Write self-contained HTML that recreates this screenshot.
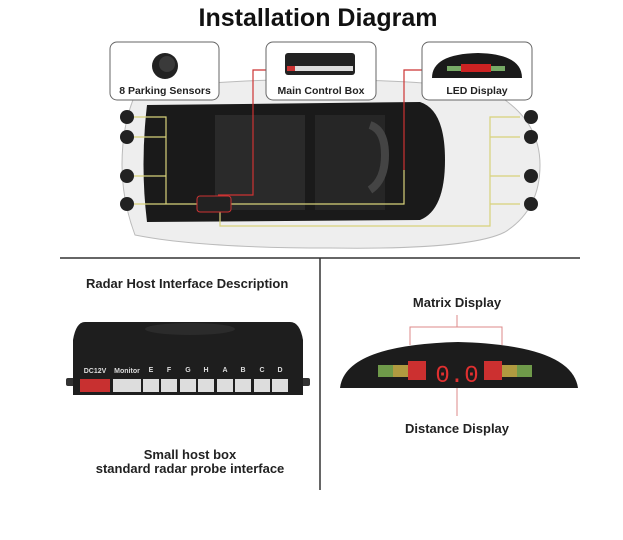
<!DOCTYPE html>
<html><head><style>
body{margin:0;background:#fff;width:623px;height:535px;overflow:hidden;font-family:"Liberation Sans",sans-serif}
</style></head><body>
<svg width="623" height="535" viewBox="0 0 623 535" xmlns="http://www.w3.org/2000/svg" font-family="Liberation Sans, sans-serif">
<text x="318" y="26" text-anchor="middle" font-size="25" font-weight="bold" fill="#111">Installation Diagram</text>
<path d="M135 95 Q200 78 330 80 Q470 80 505 100 Q540 125 540 165 Q540 210 505 232 Q470 250 330 248 Q200 248 135 235 Q122 200 122 165 Q122 125 135 95Z" fill="#eeeeee" stroke="#bbb"/>
<path d="M147 105 L420 102 Q445 110 445 160 Q445 210 420 220 L147 222 Q140 165 147 105Z" fill="#1a1a1a"/>
<rect x="215" y="115" width="90" height="95" fill="#2a2a2a"/>
<rect x="315" y="115" width="70" height="95" fill="#262626"/>
<path d="M370 125 q15 5 15 30 q0 25 -15 35" stroke="#444" stroke-width="8" fill="none"/>
<g stroke="#d8d27a" stroke-width="1.2" fill="none">
<path d="M133 117 H166 V204 H133 M133 137 H166 M133 176 H166 M166 204 H404 V170"/>
<path d="M520 117 H490 V226 H220 V210 M490 137 H520 M490 176 H520 M490 204 H520"/>
</g>
<g stroke="#c33" stroke-width="1.2" fill="none">
<path d="M218 195 H253 V70 H266"/><path d="M404 170 V70 H422"/>
</g>
<rect x="197" y="196" width="34" height="16" rx="3" fill="#222" stroke="#c33"/>
<g fill="#222">
<circle cx="127" cy="117" r="7"/><circle cx="127" cy="137" r="7"/><circle cx="127" cy="176" r="7"/><circle cx="127" cy="204" r="7"/>
<circle cx="531" cy="117" r="7"/><circle cx="531" cy="137" r="7"/><circle cx="531" cy="176" r="7"/><circle cx="531" cy="204" r="7"/>
</g>
<g fill="#fff" stroke="#666" stroke-width="1">
<rect x="110" y="42" width="109" height="58" rx="7"/>
<rect x="266" y="42" width="110" height="58" rx="7"/>
<rect x="422" y="42" width="110" height="58" rx="7"/>
</g>
<circle cx="165" cy="66" r="13" fill="#222"/><circle cx="167" cy="64" r="8" fill="#3a3a3a"/>
<rect x="285" y="53" width="70" height="22" rx="3" fill="#222"/><rect x="287" y="66" width="66" height="5" fill="#ddd"/><rect x="287" y="66" width="8" height="5" fill="#c33"/>
<path d="M432 78 Q432 54 478 53 Q522 54 522 78Z" fill="#1a1a1a"/>
<rect x="447" y="66" width="14" height="5" fill="#7a6"/><rect x="461" y="64" width="30" height="8" fill="#c22"/><rect x="491" y="66" width="14" height="5" fill="#7a6"/>
<g font-size="10.5" font-weight="bold" fill="#222" text-anchor="middle">
<text x="165" y="94">8 Parking Sensors</text><text x="321" y="94">Main Control Box</text><text x="477" y="94">LED Display</text>
</g>
<line x1="60" y1="258" x2="580" y2="258" stroke="#333" stroke-width="1.5"/>
<line x1="320" y1="258" x2="320" y2="490" stroke="#333" stroke-width="1.5"/>
<text x="86" y="288" font-size="13" font-weight="bold" fill="#222">Radar Host Interface Description</text>
<rect x="66" y="378" width="10" height="8" rx="2" fill="#333"/><rect x="300" y="378" width="10" height="8" rx="2" fill="#333"/>
<path d="M85 322 H290 Q300 322 303 340 V395 H73 V340 Q76 322 85 322Z" fill="#1e1e1e"/>
<ellipse cx="190" cy="329" rx="45" ry="6" fill="#2b2b2b"/>
<g font-size="7" fill="#ddd" font-weight="bold" text-anchor="middle">
<text x="95" y="373">DC12V</text><text x="127" y="373">Monitor</text>
<text x="151" y="372">E</text><text x="169" y="372">F</text><text x="188" y="372">G</text><text x="206" y="372">H</text><text x="225" y="372">A</text><text x="243" y="372">B</text><text x="262" y="372">C</text><text x="280" y="372">D</text>
</g>
<rect x="80" y="379" width="30" height="13" fill="#c83030"/>
<g fill="#ddd"><rect x="113" y="379" width="28" height="13"/>
<rect x="143" y="379" width="16" height="13"/><rect x="161" y="379" width="16" height="13"/><rect x="180" y="379" width="16" height="13"/><rect x="198" y="379" width="16" height="13"/><rect x="217" y="379" width="16" height="13"/><rect x="235" y="379" width="16" height="13"/><rect x="254" y="379" width="16" height="13"/><rect x="272" y="379" width="16" height="13"/></g>
<text x="190" y="459" text-anchor="middle" font-size="13" font-weight="bold" fill="#222">Small host box</text>
<text x="190" y="473" text-anchor="middle" font-size="13" font-weight="bold" fill="#222">standard radar probe interface</text>
<text x="457" y="307" text-anchor="middle" font-size="13" font-weight="bold" fill="#222">Matrix Display</text>
<path d="M410 345 V327 H502 V345 M457 315 V327" stroke="#d88" fill="none"/>
<path d="M340 388 Q345 345 458 342 Q572 345 578 388Z" fill="#1c1c1c"/>
<g>
<rect x="378" y="365" width="15" height="12" fill="#6f9a4a"/><rect x="393" y="365" width="15" height="12" fill="#b09a40"/><rect x="408" y="361" width="18" height="19" fill="#cc3030"/>
<text x="457" y="382" text-anchor="middle" font-size="24" fill="#e03030" font-family="Liberation Mono, monospace">0.0</text>
<rect x="484" y="361" width="18" height="19" fill="#cc3030"/><rect x="502" y="365" width="15" height="12" fill="#b09a40"/><rect x="517" y="365" width="15" height="12" fill="#6f9a4a"/>
</g>
<line x1="457" y1="388" x2="457" y2="416" stroke="#d88"/>
<text x="457" y="433" text-anchor="middle" font-size="13" font-weight="bold" fill="#222">Distance Display</text>
</svg>
</body></html>
